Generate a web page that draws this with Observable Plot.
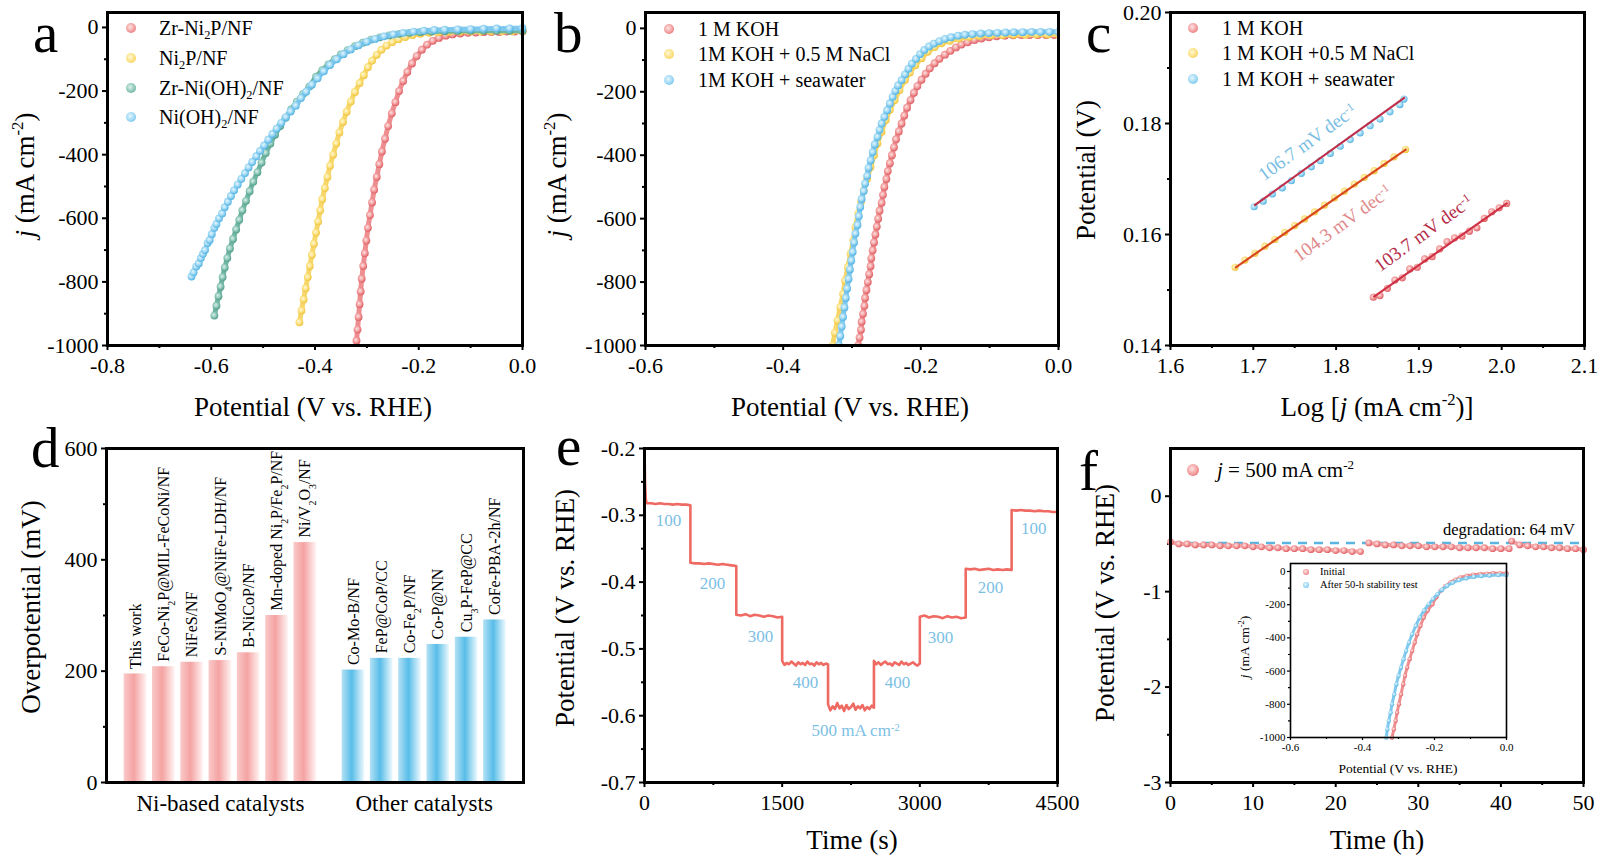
<!DOCTYPE html>
<html><head><meta charset="utf-8">
<script src="https://cdn.jsdelivr.net/npm/d3@7"></script>
<script src="https://cdn.jsdelivr.net/npm/@observablehq/plot@0.6"></script>
<style>
html,body{margin:0;padding:0;background:#fff;}
#root{position:relative;width:1600px;height:862px;overflow:hidden;background:#fff;font-family:"Liberation Serif","Times New Roman",serif;color:#000;}
#root svg{position:absolute;}
.t{position:absolute;white-space:nowrap;line-height:1;}
.t sup{font-size:0.62em;vertical-align:0.6em;line-height:0;}
.t sub{font-size:0.62em;vertical-align:-0.3em;line-height:0;}
.mk{position:absolute;border-radius:50%;}
</style></head><body>
<svg width="0" height="0" style="position:absolute">
<defs>
<radialGradient id="gred" cx="0.42" cy="0.4" r="0.62"><stop offset="0" stop-color="#fde4e4"/><stop offset="0.55" stop-color="#f29a9b"/><stop offset="1" stop-color="#dc5a5f"/></radialGradient>
<radialGradient id="gyellow" cx="0.42" cy="0.4" r="0.62"><stop offset="0" stop-color="#fff8d8"/><stop offset="0.55" stop-color="#fbe07c"/><stop offset="1" stop-color="#efc13a"/></radialGradient>
<radialGradient id="gteal" cx="0.42" cy="0.4" r="0.62"><stop offset="0" stop-color="#dcf1eb"/><stop offset="0.55" stop-color="#8ac6b5"/><stop offset="1" stop-color="#4c9a86"/></radialGradient>
<radialGradient id="gblue" cx="0.42" cy="0.4" r="0.62"><stop offset="0" stop-color="#e5f7fe"/><stop offset="0.55" stop-color="#9ad6f3"/><stop offset="1" stop-color="#4cb0e2"/></radialGradient>
<linearGradient id="gPink" x1="0" x2="1" y1="0" y2="0"><stop offset="0" stop-color="#f9cac9"/><stop offset="0.45" stop-color="#f4a3a2"/><stop offset="1" stop-color="#fff4f4"/></linearGradient>
<linearGradient id="gSky" x1="0" x2="1" y1="0" y2="0"><stop offset="0" stop-color="#b4e1f5"/><stop offset="0.45" stop-color="#58bde8"/><stop offset="1" stop-color="#eef9fe"/></linearGradient>
</defs></svg>
<div id="root"></div>
<script>
// ---------------- DATA ----------------
// Panel a: LSV curves [potential V, j mA cm-2]
const aZrNi2P = [[-0.320,-985],[-0.318,-950],[-0.316,-910],[-0.314,-870],[-0.312,-830],[-0.310,-790],[-0.307,-750],[-0.304,-710],[-0.301,-670],[-0.298,-630],[-0.294,-590],[-0.290,-550],[-0.286,-510],[-0.281,-470],[-0.276,-430],[-0.271,-390],[-0.265,-350],[-0.259,-310],[-0.252,-270],[-0.245,-235],[-0.238,-200],[-0.230,-168],[-0.222,-140],[-0.213,-113],[-0.204,-90],[-0.194,-70],[-0.184,-54],[-0.173,-42],[-0.161,-33],[-0.148,-26],[-0.135,-22],[-0.120,-19],[-0.105,-17],[-0.090,-16],[-0.075,-15],[-0.060,-14],[-0.045,-14],[-0.030,-13],[-0.015,-13],[0,-13]];
const aNi2P = [[-0.430,-927],[-0.426,-890],[-0.422,-855],[-0.418,-820],[-0.414,-785],[-0.410,-750],[-0.406,-715],[-0.402,-680],[-0.398,-645],[-0.394,-610],[-0.390,-575],[-0.386,-540],[-0.381,-505],[-0.376,-470],[-0.371,-435],[-0.365,-400],[-0.359,-365],[-0.353,-330],[-0.346,-297],[-0.339,-265],[-0.331,-233],[-0.323,-203],[-0.314,-175],[-0.306,-150],[-0.298,-125],[-0.290,-104],[-0.281,-86],[-0.272,-70],[-0.262,-57],[-0.251,-46],[-0.239,-37],[-0.226,-30],[-0.212,-24],[-0.197,-20],[-0.180,-17],[-0.162,-15],[-0.143,-14],[-0.120,-13],[-0.100,-13],[-0.080,-13],[-0.060,-12],[-0.040,-12],[-0.020,-12],[0,-12]];
const aZrNiOH = [[-0.594,-906],[-0.590,-875],[-0.586,-845],[-0.582,-815],[-0.578,-785],[-0.574,-755],[-0.569,-725],[-0.564,-695],[-0.558,-665],[-0.552,-635],[-0.546,-605],[-0.540,-575],[-0.533,-545],[-0.526,-515],[-0.519,-485],[-0.511,-455],[-0.503,-425],[-0.495,-395],[-0.486,-365],[-0.477,-337],[-0.467,-310],[-0.457,-284],[-0.446,-258],[-0.435,-233],[-0.423,-209],[-0.411,-186],[-0.398,-155],[-0.386,-134],[-0.374,-116],[-0.362,-100],[-0.350,-85],[-0.337,-71],[-0.323,-59],[-0.308,-48],[-0.292,-38],[-0.275,-31],[-0.257,-25],[-0.238,-20],[-0.218,-17],[-0.197,-15],[-0.175,-13],[-0.150,-12],[-0.125,-11],[-0.100,-10],[-0.075,-10],[-0.050,-10],[-0.025,-10],[0,-10]];
const aNiOH = [[-0.638,-783],[-0.634,-770],[-0.629,-752],[-0.624,-742],[-0.620,-725],[-0.616,-712],[-0.612,-700],[-0.607,-678],[-0.603,-668],[-0.599,-650],[-0.594,-630],[-0.590,-618],[-0.585,-600],[-0.579,-585],[-0.574,-565],[-0.568,-548],[-0.562,-530],[-0.556,-512],[-0.549,-494],[-0.542,-476],[-0.535,-458],[-0.528,-440],[-0.521,-423],[-0.513,-405],[-0.506,-388],[-0.498,-371],[-0.490,-353],[-0.482,-335],[-0.474,-318],[-0.465,-300],[-0.456,-282],[-0.447,-264],[-0.437,-246],[-0.427,-222],[-0.417,-202],[-0.406,-180],[-0.395,-160],[-0.383,-138],[-0.371,-118],[-0.358,-100],[-0.345,-84],[-0.331,-69],[-0.316,-56],[-0.300,-45],[-0.284,-36],[-0.267,-28],[-0.249,-22],[-0.230,-17],[-0.210,-13],[-0.190,-10],[-0.170,-8],[-0.150,-7],[-0.125,-6],[-0.100,-5],[-0.075,-4],[-0.050,-3],[-0.025,-3],[0,-2]];

// Panel b
const bKOH = [[-0.291,-1000],[-0.289,-975],[-0.287,-950],[-0.286,-925],[-0.284,-900],[-0.282,-875],[-0.281,-850],[-0.279,-825],[-0.277,-800],[-0.275,-775],[-0.273,-750],[-0.272,-725],[-0.270,-700],[-0.268,-675],[-0.266,-650],[-0.264,-625],[-0.262,-600],[-0.260,-575],[-0.257,-550],[-0.255,-525],[-0.253,-500],[-0.250,-475],[-0.248,-450],[-0.245,-425],[-0.242,-400],[-0.239,-375],[-0.236,-350],[-0.232,-325],[-0.228,-300],[-0.224,-275],[-0.220,-250],[-0.215,-226],[-0.210,-203],[-0.205,-182],[-0.199,-162],[-0.193,-143],[-0.187,-126],[-0.180,-110],[-0.173,-96],[-0.165,-83],[-0.157,-71],[-0.149,-60],[-0.141,-51],[-0.132,-44],[-0.122,-37],[-0.112,-32],[-0.101,-28],[-0.090,-25],[-0.078,-23],[-0.066,-22],[-0.054,-21],[-0.042,-21],[-0.030,-21],[-0.018,-21],[-0.006,-21]];
const bNaCl = [[-0.328,-1000],[-0.325,-960],[-0.321,-921],[-0.317,-879],[-0.313,-837],[-0.310,-795],[-0.306,-753],[-0.302,-710],[-0.298,-668],[-0.295,-626],[-0.291,-584],[-0.287,-547],[-0.283,-511],[-0.278,-474],[-0.273,-437],[-0.268,-400],[-0.263,-363],[-0.257,-326],[-0.251,-289],[-0.245,-257],[-0.238,-226],[-0.231,-194],[-0.223,-163],[-0.216,-139],[-0.208,-116],[-0.199,-94],[-0.190,-74],[-0.180,-59],[-0.170,-47],[-0.158,-39],[-0.145,-32],[-0.130,-27],[-0.115,-24],[-0.098,-22],[-0.081,-21],[-0.065,-20],[-0.048,-20],[-0.032,-19],[-0.016,-19],[0,-19]];
const bSea = [[-0.319,-1000],[-0.317,-970],[-0.315,-940],[-0.313,-910],[-0.311,-880],[-0.309,-850],[-0.307,-820],[-0.305,-790],[-0.303,-760],[-0.301,-732],[-0.299,-705],[-0.297,-675],[-0.295,-647],[-0.292,-620],[-0.290,-592],[-0.288,-563],[-0.286,-538],[-0.283,-513],[-0.281,-489],[-0.278,-465],[-0.276,-440],[-0.273,-416],[-0.270,-390],[-0.267,-366],[-0.263,-342],[-0.260,-320],[-0.257,-300],[-0.253,-279],[-0.249,-258],[-0.245,-237],[-0.241,-216],[-0.237,-197],[-0.233,-180],[-0.228,-163],[-0.223,-145],[-0.218,-127],[-0.213,-111],[-0.207,-96],[-0.201,-81],[-0.195,-68],[-0.188,-57],[-0.181,-48],[-0.173,-40],[-0.165,-33],[-0.156,-28],[-0.146,-23],[-0.136,-20],[-0.125,-18],[-0.113,-16],[-0.101,-15],[-0.089,-14],[-0.077,-13],[-0.065,-12],[-0.052,-12],[-0.039,-11],[-0.026,-11],[-0.013,-11],[0,-11]];

// Panel c: Tafel data [log j, potential V]
const cSea = [[1.701,0.1650],[1.712,0.1660],[1.723,0.1673],[1.735,0.1684],[1.746,0.1697],[1.758,0.1710],[1.770,0.1722],[1.781,0.1733],[1.793,0.1746],[1.805,0.1759],[1.817,0.1771],[1.829,0.1783],[1.841,0.1796],[1.853,0.1808],[1.865,0.1821],[1.877,0.1834],[1.882,0.1844]];
const cNaCl = [[1.678,0.1541],[1.690,0.1554],[1.702,0.1566],[1.714,0.1579],[1.726,0.1591],[1.738,0.1604],[1.750,0.1616],[1.762,0.1628],[1.774,0.1641],[1.786,0.1653],[1.798,0.1666],[1.810,0.1678],[1.822,0.1691],[1.834,0.1703],[1.846,0.1715],[1.858,0.1728],[1.870,0.1740],[1.884,0.1753]];
const cKOH = [[1.845,0.1487],[1.853,0.1490],[1.862,0.1503],[1.871,0.1518],[1.880,0.1522],[1.889,0.1538],[1.898,0.1541],[1.907,0.1556],[1.916,0.1560],[1.925,0.1574],[1.934,0.1587],[1.943,0.1594],[1.952,0.1597],[1.961,0.1606],[1.970,0.1612],[1.979,0.1629],[1.988,0.1641],[1.997,0.1648],[2.006,0.1656]];
const cFits = [
  {x1:1.701, y1:0.1652, x2:1.883, y2:0.1847, c:"#bf2f4a"},
  {x1:1.678, y1:0.1540, x2:1.885, y2:0.1754, c:"#d8481f"},
  {x1:1.845, y1:0.1487, x2:2.007, y2:0.1657, c:"#cf3145"}
];
const cNotes = [
  {x:1.7655, y:0.1766, s:"106.7 mV dec⁻¹", c:"#78bde2"},
  {x:1.8077, y:0.1620, s:"104.3 mV dec⁻¹", c:"#e0898a"},
  {x:1.9056, y:0.1602, s:"103.7 mV dec⁻¹", c:"#b42a48"}
];

// Panel d: overpotential (mV)
const dNiNames = ["This work","FeCo-Ni₂P@MIL-FeCoNi/NF","NiFeS/NF","S-NiMoO₄@NiFe-LDH/NF","B-NiCoP/NF","Mn-doped Ni₂P/Fe₂P/NF","Ni/V₂O₃/NF"];
const dNiValues = [195,208,216,219,233,300,431];
const dOtherNames = ["Co-Mo-B/NF","FeP@CoP/CC","Co-Fe₂P/NF","Co-P@NN","Cu₃P-FeP@CC","CoFe-PBA-2h/NF"];
const dOtherValues = [202,223,223,248,261,292];
const dGroups = ["Ni-based catalysts","Other catalysts"];

// Panel e: multi-step chronopotentiometry (time s, potential V)
const eSpike = [[0,-0.200],[6,-0.252],[14,-0.276]];
const eSteps = [
  {from:25,   to:500,  v:[-0.282,-0.282,-0.283,-0.282,-0.283,-0.283,-0.284,-0.283,-0.284,-0.284,-0.285]},
  {from:500,  to:1000, v:[-0.371,-0.372,-0.372,-0.373,-0.372,-0.373,-0.374,-0.373,-0.374,-0.375,-0.376]},
  {from:1000, to:1500, v:[-0.449,-0.450,-0.448,-0.451,-0.449,-0.450,-0.452,-0.450,-0.451,-0.453,-0.452]},
  {from:1500, to:2000, v:[-0.518,-0.524,-0.521,-0.523,-0.519,-0.522,-0.525,-0.520,-0.523,-0.521,-0.524,-0.519,-0.523,-0.522,-0.525,-0.520,-0.523,-0.521,-0.524,-0.522,-0.523]},
  {from:2000, to:2500, v:[-0.583,-0.592,-0.586,-0.590,-0.581,-0.589,-0.585,-0.593,-0.584,-0.590,-0.587,-0.582,-0.591,-0.586,-0.589,-0.584,-0.592,-0.587,-0.590,-0.585,-0.588]},
  {from:2500, to:3000, v:[-0.518,-0.523,-0.520,-0.524,-0.521,-0.519,-0.523,-0.522,-0.525,-0.520,-0.522,-0.524,-0.519,-0.523,-0.521,-0.524,-0.522,-0.520,-0.523,-0.525,-0.522]},
  {from:3000, to:3500, v:[-0.452,-0.450,-0.453,-0.451,-0.452,-0.454,-0.451,-0.453,-0.452,-0.454,-0.453]},
  {from:3500, to:4000, v:[-0.380,-0.381,-0.380,-0.382,-0.381,-0.380,-0.382,-0.381,-0.382,-0.381,-0.382]},
  {from:4000, to:4500, v:[-0.292,-0.293,-0.292,-0.293,-0.293,-0.294,-0.293,-0.294,-0.294,-0.295,-0.295]}
];
const eNotes = [
  {t:261,v:-0.308,s:"100"},{t:741,v:-0.402,s:"200"},{t:1264,v:-0.481,s:"300"},{t:1754,v:-0.550,s:"400"},
  {t:2300,v:-0.622,s:"500 mA cm⁻²"},{t:2757,v:-0.550,s:"400"},{t:3225,v:-0.483,s:"300"},{t:3771,v:-0.408,s:"200"},{t:4240,v:-0.320,s:"100"}
];

// Panel f: stability at 500 mA cm-2 (time h, potential V)
const fSegments = [
  {from:0,    to:23, v:[-0.48,-0.50,-0.50,-0.51,-0.51,-0.51,-0.52,-0.52,-0.52,-0.52,-0.53,-0.53,-0.54,-0.54,-0.55,-0.55,-0.55,-0.56,-0.56,-0.56,-0.57,-0.57,-0.58,-0.58]},
  {from:24,   to:41, v:[-0.49,-0.50,-0.51,-0.51,-0.52,-0.52,-0.52,-0.53,-0.53,-0.53,-0.53,-0.54,-0.54,-0.54,-0.54,-0.55,-0.55,-0.55]},
  {from:41.3, to:50, v:[-0.47,-0.51,-0.52,-0.53,-0.53,-0.54,-0.54,-0.55,-0.55,-0.56]}
];
const fReference = -0.49;
// Inset: LSV before / after
const insInitial = [[-0.318,-1000],[-0.313,-950],[-0.308,-899],[-0.304,-850],[-0.299,-799],[-0.293,-740],[-0.287,-679],[-0.282,-628],[-0.276,-578],[-0.269,-528],[-0.262,-478],[-0.255,-428],[-0.248,-378],[-0.239,-327],[-0.230,-277],[-0.219,-235],[-0.206,-197],[-0.195,-155],[-0.183,-116],[-0.170,-89],[-0.156,-66],[-0.142,-49],[-0.128,-36],[-0.110,-26],[-0.092,-19],[-0.073,-15],[-0.055,-13],[-0.037,-11],[-0.018,-10],[0,-10]];
const insAfter = [[-0.334,-1000],[-0.331,-950],[-0.327,-899],[-0.322,-850],[-0.318,-799],[-0.312,-740],[-0.306,-679],[-0.300,-628],[-0.293,-578],[-0.286,-528],[-0.279,-478],[-0.271,-428],[-0.262,-378],[-0.252,-327],[-0.241,-277],[-0.229,-235],[-0.216,-197],[-0.204,-165],[-0.192,-137],[-0.179,-110],[-0.165,-86],[-0.149,-67],[-0.132,-52],[-0.112,-41],[-0.091,-32],[-0.070,-27],[-0.047,-24],[-0.023,-22],[0,-22]];

// Tick values
const aXTicks=[-0.8,-0.6,-0.4,-0.2,0], aXMinor=[-0.7,-0.5,-0.3,-0.1];
const jTicks=[0,-200,-400,-600,-800,-1000], jMinor=[-100,-300,-500,-700,-900];
const bXTicks=[-0.6,-0.4,-0.2,0], bXMinor=[-0.5,-0.3,-0.1];
const cXTicks=[1.6,1.7,1.8,1.9,2.0,2.1], cXMinor=[1.65,1.75,1.85,1.95,2.05];
const cYTicks=[0.14,0.16,0.18,0.20], cYMinor=[0.15,0.17,0.19];
const dYTicks=[0,200,400,600], dYMinor=[100,300,500];
const eXTicks=[0,1500,3000,4500], eXMinor=[750,2250,3750];
const eYTicks=[-0.2,-0.3,-0.4,-0.5,-0.6,-0.7], eYMinor=[-0.25,-0.35,-0.45,-0.55,-0.65];
const fXTicks=[0,10,20,30,40,50], fXMinor=[5,15,25,35,45];
const fYTicks=[0,-1,-2,-3], fYMinor=[-0.5,-1.5,-2.5];

// ---------------- RENDERING ----------------
const root = document.getElementById("root");
const FONT = '"Liberation Serif","Times New Roman",serif';
const LINE = {red:"#ee8e90", yellow:"#f7d769", teal:"#6fb5a2", blue:"#7fc9ee"};
const CSSG = {
  red:"radial-gradient(circle at 42% 40%, #fde4e4 0%, #f29a9b 55%, #dc5a5f 100%)",
  yellow:"radial-gradient(circle at 42% 40%, #fff8d8 0%, #fbe07c 55%, #efc13a 100%)",
  teal:"radial-gradient(circle at 42% 40%, #dcf1eb 0%, #8ac6b5 55%, #4c9a86 100%)",
  blue:"radial-gradient(circle at 42% 40%, #e5f7fe 0%, #9ad6f3 55%, #4cb0e2 100%)"
};
const fInt = d => String(d), f1 = d => d.toFixed(1), f2 = d => d.toFixed(2);

const SUBS="₀₁₂₃₄₅₆₇₈₉", SUPS="⁰¹²³⁴⁵⁶⁷⁸⁹⁻", PLAIN="0123456789-";
function rich(svg){
  svg.querySelectorAll("text").forEach(el=>{
    if (el.children.length) return;
    const s = el.textContent;
    if (!/[₀-₉⁰¹²³⁴⁵⁶⁷⁸⁹⁻]/.test(s)) return;
    el.textContent = "";
    const re = /([₀-₉]+)|([⁰¹²³⁴⁵⁶⁷⁸⁹⁻]+)/g; let last=0, m;
    const add = (t, kind) => {
      const ts = document.createElementNS("http://www.w3.org/2000/svg","tspan");
      ts.textContent = t;
      if (kind){ ts.setAttribute("font-size","0.62em"); ts.setAttribute("baseline-shift", kind); }
      el.appendChild(ts);
    };
    while ((m = re.exec(s))){
      if (m.index > last) add(s.slice(last, m.index));
      const isSub = !!m[1];
      const conv = [...m[0]].map(ch => PLAIN[(isSub?SUBS:SUPS).indexOf(ch)]).join("");
      add(conv, isSub ? "sub" : "super");
      last = re.lastIndex;
    }
    if (last < s.length) add(s.slice(last));
  });
}

function makePlot({left, top, width, height, ml, mr, mt, mb, x, y, marks, fontSize=22}){
  const svg = Plot.plot({
    width, height, marginLeft:ml, marginRight:mr, marginTop:mt, marginBottom:mb,
    x:{label:null, ...x}, y:{label:null, ...y}, color:{type:"identity"},
    style:{background:"transparent", fontFamily:FONT, fontSize:fontSize+"px", color:"#000", overflow:"visible", maxWidth:"none"},
    marks
  });
  svg.style.position="absolute"; svg.style.left=left+"px"; svg.style.top=top+"px";
  rich(svg);
  root.appendChild(svg);
  return svg;
}
function axes(o){
  const sw=o.sw??2, ts=o.ts??5, ms=o.ms??3, tp=o.tp??7, yp=o.yp??4;
  const m=[];
  if (o.xt) m.push(Plot.axisX({ticks:o.xt, tickSize:ts, tickPadding:tp, tickFormat:o.xf, strokeWidth:sw, label:null}));
  if (o.xm) m.push(Plot.axisX({ticks:o.xm, tickSize:ms, tickFormat:()=>"", strokeWidth:sw, label:null}));
  if (o.yt) m.push(Plot.axisY({ticks:o.yt, tickSize:ts, tickPadding:yp, tickFormat:o.yf, strokeWidth:sw, label:null}));
  if (o.ym) m.push(Plot.axisY({ticks:o.ym, tickSize:ms, tickFormat:()=>"", strokeWidth:sw, label:null}));
  return m;
}
function curve(data, key, r=3.9, lw=5, clip=false){
  const rows = data.map(([x,y])=>({x,y}));
  return [
    Plot.line(rows, {x:"x", y:"y", stroke:LINE[key], strokeWidth:lw, clip}),
    Plot.dot(rows, {x:"x", y:"y", r, fill:`url(#g${key})`, clip})
  ];
}
function txt(html, x, y, {size=27, rot=false, anchor="middle", color="#000"}={}){
  const d=document.createElement("div"); d.className="t"; d.innerHTML=html;
  d.style.left=x+"px"; d.style.top=y+"px"; d.style.fontSize=size+"px"; d.style.color=color;
  let tf = anchor==="middle" ? "translate(-50%,-50%)" : anchor==="end" ? "translate(-100%,-50%)" : "translate(0,-50%)";
  if (rot) tf += " rotate(-90deg)";
  d.style.transform=tf; root.appendChild(d); return d;
}
function letter(ch, x, baseline, size=57){
  // line-height 0.8 => baseline sits at top + 0.7375*size
  const d=document.createElement("div"); d.className="t"; d.textContent=ch;
  d.style.lineHeight="0.8";
  d.style.left=x+"px"; d.style.top=(baseline-0.7375*size)+"px"; d.style.fontSize=size+"px";
  root.appendChild(d);
}
function legendItem(cx, cy, textX, html, key, {size=20, dot=10}={}){
  const m=document.createElement("div"); m.className="mk";
  m.style.left=(cx-dot/2)+"px"; m.style.top=(cy-dot/2)+"px"; m.style.width=dot+"px"; m.style.height=dot+"px";
  m.style.background=CSSG[key]; root.appendChild(m);
  txt(html, textX, cy, {size, anchor:"start"});
}

// ---- Panel a ----
makePlot({left:0, top:0, width:540, height:420, ml:107, mr:18, mt:12, mb:75,
  x:{domain:[-0.8,0]}, y:{domain:[-1000,47]},
  marks:[
    ...axes({xt:aXTicks, xm:aXMinor, yt:jTicks, ym:jMinor, xf:f1, yf:fInt}),
    ...curve(aZrNi2P,"red"), ...curve(aNi2P,"yellow"), ...curve(aZrNiOH,"teal"), ...curve(aNiOH,"blue"),
    Plot.frame({strokeWidth:3})
  ]});
// ---- Panel b ----
makePlot({left:530, top:0, width:540, height:420, ml:115, mr:12, mt:12, mb:75,
  x:{domain:[-0.6,0]}, y:{domain:[-1000,50]},
  marks:[
    ...axes({xt:bXTicks, xm:bXMinor, yt:jTicks, ym:jMinor, xf:f1, yf:fInt}),
    ...curve(bKOH,"red",3.9,5,true), ...curve(bNaCl,"yellow",3.9,5,true), ...curve(bSea,"blue",3.9,5,true),
    Plot.frame({strokeWidth:3})
  ]});
// ---- Panel c ----
makePlot({left:1060, top:0, width:540, height:420, ml:110, mr:16, mt:12, mb:75,
  x:{domain:[1.6,2.1]}, y:{domain:[0.14,0.20]},
  marks:[
    ...axes({xt:cXTicks, xm:cXMinor, yt:cYTicks, ym:cYMinor, xf:f1, yf:f2}),
    Plot.dot(cSea.map(([x,y])=>({x,y})), {x:"x", y:"y", r:3.6, fill:"url(#gblue)"}),
    Plot.dot(cNaCl.map(([x,y])=>({x,y})), {x:"x", y:"y", r:3.6, fill:"url(#gyellow)"}),
    Plot.dot(cKOH.map(([x,y])=>({x,y})), {x:"x", y:"y", r:3.6, fill:"url(#gred)"}),
    Plot.link(cFits, {x1:"x1", y1:"y1", x2:"x2", y2:"y2", stroke:"c", strokeWidth:2.2}),
    Plot.text(cNotes, {x:"x", y:"y", text:"s", fill:"c", rotate:-36, fontSize:19, textAnchor:"middle", lineAnchor:"middle"}),
    Plot.frame({strokeWidth:3})
  ]});
// ---- Panel d ----
const GAP = 0.7;
const dBars = [
  ...dNiNames.map((n,i)=>({name:n, v:dNiValues[i], pos:i, g:dGroups[0]})),
  ...dOtherNames.map((n,i)=>({name:n, v:dOtherValues[i], pos:dNiNames.length+GAP+i, g:dGroups[1]}))
];
const dGroupRows = dGroups.map(g => {
  const ps = dBars.filter(b=>b.g===g).map(b=>b.pos);
  return {g, pos:(ps[0]+ps[ps.length-1])/2};
});
makePlot({left:0, top:420, width:540, height:442, ml:106, mr:17, mt:28, mb:80,
  x:{domain:[-1.025,13.71], axis:null}, y:{domain:[0,600]},
  marks:[
    ...axes({yt:dYTicks, ym:dYMinor, yf:fInt}),
    Plot.rectY(dBars.filter(b=>b.g===dGroups[0]), {x1:b=>b.pos-0.4, x2:b=>b.pos+0.4, y1:0, y2:"v", fill:"url(#gPink)"}),
    Plot.rectY(dBars.filter(b=>b.g===dGroups[1]), {x1:b=>b.pos-0.4, x2:b=>b.pos+0.4, y1:0, y2:"v", fill:"url(#gSky)"}),
    Plot.text(dBars, {x:"pos", y:"v", text:"name", rotate:-90, textAnchor:"start", lineAnchor:"middle", dy:-5, fontSize:16}),
    Plot.text(dGroupRows, {x:"pos", y:0, text:"g", dy:12, fontSize:23, lineAnchor:"top"}),
    Plot.frame({strokeWidth:3})
  ]});
// ---- Panel e ----
const eRows = [
  ...eSpike.map(([t,v])=>({t,v})),
  ...eSteps.flatMap(s => s.v.map((v,k)=>({t:s.from + k*(s.to-s.from)/(s.v.length-1), v})))
];
makePlot({left:530, top:420, width:540, height:442, ml:114, mr:13, mt:28, mb:80,
  x:{domain:[0,4500]}, y:{domain:[-0.7,-0.2]},
  marks:[
    ...axes({xt:eXTicks, xm:eXMinor, yt:eYTicks, ym:eYMinor, xf:fInt, yf:f1}),
    Plot.line(eRows, {x:"t", y:"v", stroke:"#ee6a62", strokeWidth:2.6}),
    Plot.text(eNotes, {x:"t", y:"v", text:"s", fill:"#7cc0e4", fontSize:17, lineAnchor:"middle"}),
    Plot.frame({strokeWidth:3})
  ]});
// ---- Panel f ----
const fRows = fSegments.flatMap((s,si) => s.v.map((v,k)=>({t:s.from + k*(s.to-s.from)/(s.v.length-1), v, seg:si})));
makePlot({left:1060, top:420, width:540, height:442, ml:110, mr:17, mt:28, mb:80,
  x:{domain:[0,50]}, y:{domain:[-3,0.5]},
  marks:[
    ...axes({xt:fXTicks, xm:fXMinor, yt:fYTicks, ym:fYMinor, xf:fInt, yf:fInt}),
    Plot.ruleY([fReference], {stroke:"#5ab4e0", strokeWidth:2.5, strokeDasharray:"9,7"}),
    Plot.line(fRows, {x:"t", y:"v", z:"seg", stroke:"#f3a5a7", strokeWidth:4}),
    Plot.dot(fRows, {x:"t", y:"v", r:3.4, fill:"url(#gred)"}),
    Plot.frame({strokeWidth:3})
  ]});
// ---- Inset ----
makePlot({left:1230, top:540, width:290, height:240, ml:60, mr:14, mt:23, mb:43,
  x:{domain:[-0.6,0]}, y:{domain:[-1000,48]}, fontSize:11,
  marks:[
    ...axes({xt:bXTicks, xm:bXMinor, yt:jTicks, ym:jMinor, xf:f1, yf:fInt, sw:1.2, ts:3, ms:2, tp:3, yp:2}),
    ...curve(insInitial,"red",2.2,3), ...curve(insAfter,"blue",2.2,3),
    Plot.frame({strokeWidth:1.6})
  ]});

// ---------------- TEXT OVERLAYS ----------------
letter("a", 33, 52); letter("b", 554, 52); letter("c", 1086, 52);
letter("d", 31, 467); letter("e", 556, 465); letter("f", 1079, 490);

const JLBL = "<i>j</i> (mA cm<sup>-2</sup>)";
txt(JLBL, 25, 175, {rot:true});
txt("Potential (V vs. RHE)", 313, 407);
txt(JLBL, 557, 175, {rot:true});
txt("Potential (V vs. RHE)", 850, 407);
txt("Potential (V)", 1086, 170, {rot:true});
txt("Log [<i>j</i> (mA cm<sup>-2</sup>)]", 1377, 407);
txt("Overpotential (mV)", 31, 607, {rot:true});
txt("Potential (V vs. RHE)", 565, 608, {rot:true});
txt("Time (s)", 852, 840);
txt("Potential (V vs. RHE)", 1105, 603, {rot:true});
txt("Time (h)", 1377, 840);
txt("degradation: 64 mV", 1575, 530, {size:16.5, anchor:"end"});
txt(JLBL, 1245, 647, {rot:true, size:13.5});
txt("Potential (V vs. RHE)", 1398, 769, {size:13.5});

legendItem(131, 28, 159, "Zr-Ni<sub>2</sub>P/NF", "red");
legendItem(131, 58, 159, "Ni<sub>2</sub>P/NF", "yellow");
legendItem(131, 88, 159, "Zr-Ni(OH)<sub>2</sub>/NF", "teal");
legendItem(131, 117, 159, "Ni(OH)<sub>2</sub>/NF", "blue");
legendItem(669, 29, 698, "1 M KOH", "red");
legendItem(669, 54, 698, "1M KOH + 0.5 M NaCl", "yellow");
legendItem(669, 80, 698, "1M KOH + seawater", "blue");
legendItem(1193, 28, 1222, "1 M KOH", "red");
legendItem(1193, 53, 1222, "1 M KOH +0.5 M NaCl", "yellow");
legendItem(1193, 79, 1222, "1 M KOH + seawater", "blue");
legendItem(1193, 470, 1217, "<i>j</i> = 500 mA cm<sup>-2</sup>", "red", {size:21, dot:12});
legendItem(1306, 572, 1320, "Initial", "red", {size:10.5, dot:6});
legendItem(1306, 585, 1320, "After 50-h stability test", "blue", {size:10.5, dot:6});
</script>
</body></html>
